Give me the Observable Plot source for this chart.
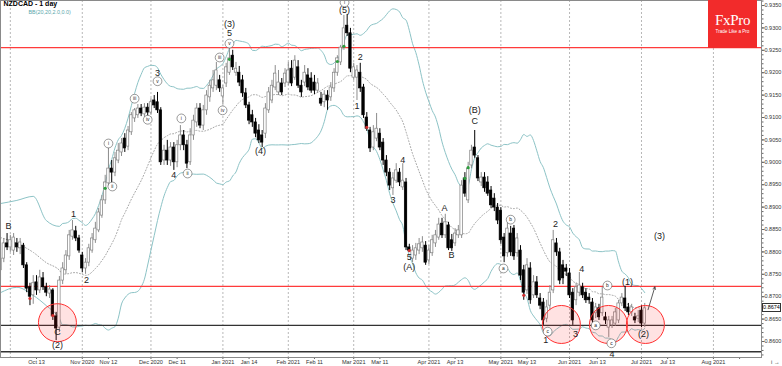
<!DOCTYPE html>
<html><head><meta charset="utf-8">
<script src="https://cdn.jsdelivr.net/npm/d3@7"></script>
<script src="https://cdn.jsdelivr.net/npm/@observablehq/plot@0.6"></script>
<style>
html,body{margin:0;padding:0;background:#fff;}
#wrap{position:relative;width:782px;height:366px;overflow:hidden;font-family:"Liberation Sans",Arial,sans-serif;}
#logo{position:absolute;left:708px;top:0;width:49px;height:48px;background:#f22b2b;color:#fff;text-align:center;}
#logo .b{font-family:"Liberation Serif","DejaVu Serif",serif;font-size:15px;margin-top:13px;line-height:15px;letter-spacing:-0.3px;}
#logo .s{font-size:4.6px;line-height:6px;margin-top:1px;}
#plabel{position:absolute;left:762px;width:19px;height:9px;border:1px solid #333;background:#fff;font-size:5.5px;line-height:7px;text-align:center;box-sizing:border-box;color:#000;}
</style></head><body>
<div id="wrap"></div>
<script>
// ---- data: daily candles NZDCAD, index 0 = 1 Oct 2020 (trading days) ----
const firstIndex = -3;
const open = [.8759,.8785,.8819,.8810,.8803,.8819,.8808,.8814,.8770,.8721,.8703,.8732,.8714,.8741,.8721,.8707,.8714,.8656,.8631,.8736,
.8759,.8790,.8834,.8846,.8830,.8792,.8763,.8776,.8803,.8826,.8848,.8881,.8915,.8953,.8986,.8977,.9004,.9022,.9053,.9035,
.9067,.9098,.9105,.9120,.9107,.9122,.9111,.9138,.9134,.9116,.9004,.9026,.9004,.9033,.9000,.9038,.9060,.9038,.9000,.9060,
.9089,.9120,.9082,.9116,.9145,.9165,.9171,.9183,.9147,.9176,.9200,.9238,.9200,.9200,.9183,.9154,.9127,.9105,.9089,.9071,
.9060,.9064,.9116,.9138,.9167,.9156,.9176,.9176,.9178,.9209,.9189,.9212,.9171,.9178,.9194,.9187,.9178,.9160,.9142,.9134,
.9149,.9145,.9165,.9200,.9223,.9256,.9305,.9288,.9189,.9189,.9200,.9167,.9100,.9071,.9033,.9053,.9064,.9044,.9004,.8977,
.8942,.8959,.8977,.8944,.8955,.8810,.8785,.8792,.8803,.8808,.8814,.8781,.8797,.8819,.8832,.8863,.8837,.8859,.8826,.8819,
.8837,.8837,.8964,.8915,.8993,.9033,.9009,.8955,.8966,.8955,.8937,.8919,.8899,.8892,.8832,.8797,.8841,.8852,.8797,.8803,
.8759,.8714,.8763,.8703,.8732,.8696,.8687,.8651,.8680,.8714,.8819,.8799,.8770,.8763,.8752,.8709,.8692,.8709,.8721,.8709,
.8698,.8687,.8663,.8674,.8663,.8654,.8631,.8636,.8640,.8647,.8685,.8696,.8676,.8665,.8654,.8651,.8669,.8640];
const high = [.8799,.8830,.8841,.8837,.8841,.8830,.8830,.8819,.8776,.8730,.8747,.8747,.8759,.8754,.8730,.8725,.8718,.8665,.8745,.8776,
.8803,.8848,.8870,.8857,.8837,.8799,.8785,.8817,.8841,.8866,.8897,.8926,.8971,.9033,.9004,.9022,.9042,.9053,.9064,.9080,
.9111,.9120,.9129,.9129,.9131,.9131,.9142,.9149,.9156,.9122,.9038,.9049,.9044,.9044,.9049,.9082,.9071,.9049,.9075,.9105,
.9131,.9131,.9127,.9160,.9183,.9205,.9223,.9194,.9171,.9221,.9256,.9250,.9223,.9214,.9194,.9165,.9134,.9116,.9098,.9084,
.9071,.9131,.9167,.9183,.9216,.9205,.9187,.9209,.9223,.9227,.9238,.9227,.9183,.9216,.9209,.9200,.9194,.9187,.9156,.9160,
.9160,.9178,.9209,.9238,.9261,.9328,.9330,.9299,.9221,.9216,.9221,.9174,.9111,.9078,.9082,.9109,.9075,.9053,.9015,.8986,
.8977,.8997,.8986,.8997,.8964,.8817,.8814,.8819,.8830,.8834,.8823,.8814,.8837,.8848,.8875,.8875,.8884,.8866,.8839,.8852,
.8859,.8959,.8977,.9000,.9038,.9071,.9015,.8977,.8977,.8968,.8946,.8930,.8908,.8899,.8841,.8866,.8857,.8859,.8841,.8814,
.8770,.8785,.8776,.8747,.8745,.8707,.8696,.8692,.8725,.8848,.8830,.8808,.8781,.8772,.8763,.8718,.8730,.8754,.8730,.8718,
.8707,.8696,.8685,.8683,.8721,.8665,.8656,.8656,.8674,.8692,.8707,.8723,.8685,.8683,.8663,.8669,.8680,.8685];
const low = [.8736,.8776,.8803,.8799,.8792,.8799,.8794,.8763,.8709,.8680,.8683,.8703,.8707,.8714,.8700,.8696,.8647,.8602,.8620,.8727,
.8750,.8781,.8826,.8823,.8797,.8754,.8750,.8767,.8797,.8819,.8843,.8875,.8906,.8944,.8951,.8968,.8997,.9013,.9022,.9026,
.9060,.9089,.9098,.9102,.9100,.9098,.9105,.9120,.9109,.8993,.8993,.8993,.8991,.8982,.8988,.9026,.9026,.8986,.8993,.9049,
.9078,.9075,.9071,.9105,.9134,.9156,.9160,.9156,.9129,.9167,.9194,.9205,.9192,.9169,.9145,.9120,.9084,.9078,.9055,.9042,
.9033,.9053,.9109,.9131,.9160,.9149,.9149,.9167,.9171,.9169,.9183,.9165,.9145,.9169,.9160,.9154,.9151,.9154,.9125,.9122,
.9116,.9136,.9156,.9192,.9216,.9250,.9281,.9200,.9183,.9138,.9156,.9098,.9069,.9022,.9026,.9046,.9026,.8993,.8968,.8937,
.8926,.8953,.8946,.8937,.8803,.8799,.8776,.8781,.8794,.8799,.8770,.8772,.8790,.8810,.8826,.8830,.8830,.8803,.8801,.8812,
.8830,.8830,.8922,.8908,.8986,.9009,.8957,.8946,.8933,.8924,.8897,.8890,.8861,.8817,.8776,.8788,.8790,.8781,.8788,.8736,
.8692,.8705,.8683,.8696,.8696,.8671,.8636,.8642,.8669,.8707,.8790,.8727,.8727,.8745,.8696,.8636,.8680,.8700,.8696,.8685,
.8683,.8640,.8651,.8647,.8656,.8638,.8609,.8629,.8634,.8640,.8678,.8667,.8658,.8656,.8640,.8642,.8631,.8631];
const close = [.8785,.8819,.8810,.8826,.8832,.8810,.8821,.8770,.8718,.8700,.8730,.8714,.8743,.8721,.8709,.8716,.8656,.8629,.8736,.8763,
.8792,.8837,.8848,.8830,.8803,.8763,.8776,.8808,.8830,.8852,.8888,.8915,.8955,.8986,.8977,.9009,.9026,.9042,.9031,.9071,
.9105,.9116,.9120,.9109,.9122,.9111,.9134,.9127,.9116,.9000,.9026,.9004,.9033,.9000,.9038,.9060,.9038,.8997,.9060,.9093,
.9120,.9082,.9116,.9149,.9171,.9183,.9205,.9165,.9165,.9212,.9232,.9212,.9209,.9178,.9154,.9127,.9093,.9089,.9064,.9049,
.9044,.9120,.9156,.9171,.9198,.9178,.9156,.9198,.9205,.9176,.9227,.9171,.9156,.9200,.9167,.9160,.9160,.9176,.9131,.9151,
.9138,.9167,.9200,.9232,.9256,.9299,.9288,.9209,.9212,.9205,.9165,.9105,.9075,.9031,.9067,.9075,.9033,.9004,.8977,.8948,
.8964,.8982,.8955,.8959,.8810,.8803,.8803,.8808,.8817,.8821,.8776,.8803,.8826,.8837,.8861,.8837,.8866,.8808,.8808,.8841,
.8848,.8948,.8930,.8986,.9026,.9015,.8964,.8966,.8942,.8930,.8904,.8899,.8870,.8826,.8790,.8852,.8799,.8790,.8830,.8747,
.8709,.8770,.8692,.8732,.8703,.8680,.8647,.8676,.8709,.8826,.8799,.8736,.8741,.8756,.8703,.8647,.8721,.8725,.8703,.8692,
.8692,.8647,.8676,.8654,.8698,.8647,.8647,.8647,.8665,.8685,.8698,.8674,.8665,.8676,.8647,.8656,.8640,.8674];

// Bollinger Bands (20, 2): first visible part (window not complete yet)
const bbHeadIndex = [-3, 2, 7, 11, 15];
const bbHeadUpper = [.8908, .8915, .8924, .8870, .8857];
const bbHeadMiddle = [.8832, .8819, .8799, .8776, .8759];
const bbHeadLower = [.8709, .8721, .8703, .8680, .8651];

// horizontal levels
const levelValues = [0.9256, 0.8723, 0.8636, 0.8577];
const levelColors = ["#ff3b3b", "#ff3b3b", "#333", "#333"];

// x axis (trading-day index)
const monthStarts = [0, 22, 43, 65, 85, 105, 128, 150, 171, 193, 215];
const tickIndex = [8, 22, 30, 43, 51, 65, 73, 85, 93, 105, 113, 128, 136, 150, 158, 171, 179.5, 193, 201, 215, 223];
const tickLabels = ["Oct 13","Nov 2020","Nov 12","Dec 2020","Dec 11","Jan 2021","Jan 14","Feb 2021","Feb 11","Mar 2021","Mar 11","Apr 2021","Apr 13","May 2021","May 13","Jun 2021","Jun 13","Jul 2021","Jul 13","Aug 2021",""];
const yTicks = [0.8600,0.8650,0.8700,0.8750,0.8800,0.8850,0.8900,0.8950,0.9000,0.9050,0.9100,0.9150,0.9200,0.9250,0.9300,0.9350];

// wave labels
const waveText = ["B","1","2","C","(2)","3","4","(3)","5","(4)","(5)","2","1","3","4","5","(A)","A","B","(B)","C","2","4","1","3","(1)","(2)","(3)","4"];
const waveIndex = [-0.6,19.3,23.3,14.4,14.4,45,50,67,67,76.5,102.2,107,106,117,120,122,122,132.8,134.9,142,142,166.7,174.7,163.7,172.8,188.7,193.6,198.5,184];
const wavePrice = [.8857,.8884,.8738,.8620,.8591,.9199,.8971,.9308,.9288,.9026,.9339,.9234,.9125,.8915,.9006,.8788,.8767,.8897,.8792,.9116,.9091,.8863,.8761,.8604,.8616,.8732,.8616,.8835,.8572];
const subText = ["i","ii","iii","iv","v","i","ii","iii","iv","v","i","a","b","c","a","b","c"];
const subIndex = [30,31.2,38,42,45,52.3,54.2,64,64.9,67,102.2,150.8,153,164.3,179,182.6,183.8];
const subPrice = [.9042,.8946,.9142,.9095,.9181,.9098,.8975,.9234,.9116,.9265,.9357,.8763,.8872,.8622,.8636,.8725,.8596];

// signal markers
const sigIndex = [29,67,100,102,139,140,6,13,109,122,157];
const sigPrice = [.8942,.9230,.9225,.9259,.8964,.8988,.8696,.8658,.9078,.8803,.8703];
const sigColor = ["#2e9e3e","#2e9e3e","#2e9e3e","#2e9e3e","#2e9e3e","#2e9e3e","#d03030","#d03030","#d03030","#d03030","#d03030"];

// highlight circles and arrow
const ringIndex = [14.4, 168.5, 182.9, 194.2];
const ringPrice = [.8642, .8638, .8638, .8638];
const arrowFrom = [195, .8671];
const arrowTo = [197.1, .8722];

// ---- build ----
const rows = close.map((c, k) => ({i: k + firstIndex, o: open[k], h: high[k], l: low[k], c}));
const bb = bbHeadIndex.map((i, k) => ({i, up: bbHeadUpper[k], mid: bbHeadMiddle[k], lo: bbHeadLower[k]}));
for (let k = 19; k < close.length; k++) {
  const w = close.slice(k - 19, k + 1);
  const m = d3.mean(w);
  const sd = Math.sqrt(d3.mean(w, v => (v - m) ** 2));
  bb.push({i: k + firstIndex, up: m + 2 * sd, mid: m, lo: m - 2 * sd});
}
const waves = waveText.map((t, k) => ({t, i: waveIndex[k], p: wavePrice[k]}));
const subs = subText.map((t, k) => ({t, i: subIndex[k], p: subPrice[k]}));
const sigs = sigIndex.map((i, k) => ({i, p: sigPrice[k], c: sigColor[k]}));
const rings = ringIndex.map((i, k) => ({i, p: ringPrice[k]}));
const labelMap = new Map(tickIndex.map((d, k) => [d, tickLabels[k]]));
const bull = d => d.c >= d.o;
const font = "Liberation Sans, Arial, sans-serif";
const bbColor = "#8cc3c6";

const chart = Plot.plot({
  width: 782, height: 366,
  marginLeft: 0, marginRight: 21, marginTop: 0, marginBottom: 9,
  style: {fontFamily: font, background: "#fff"},
  x: {domain: [-3.01, 229.7], axis: null},
  y: {domain: [0.85643, 0.93612], axis: null},
  marks: [
    Plot.ruleX(monthStarts, {stroke: "#b8b8b8", strokeDasharray: "2,2", strokeWidth: 1}),
    Plot.lineY(bb, {x: "i", y: "up", stroke: bbColor, strokeWidth: 1, curve: "monotone-x"}),
    Plot.lineY(bb, {x: "i", y: "lo", stroke: bbColor, strokeWidth: 1, curve: "monotone-x"}),
    Plot.lineY(bb, {x: "i", y: "mid", stroke: "#9a9a9a", strokeWidth: 0.9, strokeDasharray: "1,2", curve: "monotone-x"}),
    Plot.ruleY(levelValues, {stroke: (d, k) => levelColors[k], strokeWidth: 1.4}),
    Plot.ruleX(rows, {x: "i", y1: "l", y2: "h", stroke: d => bull(d) ? "#8c8c8c" : "#000", strokeWidth: 1}),
    Plot.rect(rows, {x1: d => d.i - 0.37, x2: d => d.i + 0.37, y1: "o", y2: "c",
      fill: d => bull(d) ? "#fff" : "#000", stroke: d => bull(d) ? "#808080" : "#000", strokeWidth: 0.7}),
    Plot.dot(sigs, {x: "i", y: "p", r: 1.6, fill: "c", stroke: "none"}),
    Plot.dot(rings, {x: "i", y: "p", r: 19, stroke: "#ff3030", strokeWidth: 1, fill: "#ff2020", fillOpacity: 0.13}),
    Plot.arrow([{}], {x1: arrowFrom[0], y1: arrowFrom[1], x2: arrowTo[0], y2: arrowTo[1], stroke: "#333", strokeWidth: 0.8, headLength: 5}),
    Plot.text(waves, {x: "i", y: "p", text: "t", fontSize: 9, fill: "#222"}),
    Plot.dot(subs, {x: "i", y: "p", r: 4.4, stroke: "#555", strokeWidth: 0.6, fill: "#fff"}),
    Plot.text(subs, {x: "i", y: "p", text: "t", fontSize: 4.9, fill: "#222"}),
    Plot.axisX(tickIndex, {tickFormat: d => labelMap.get(d), tickSize: 2, tickPadding: 0.5, fontSize: 5.6, fill: "#333", stroke: "#666"}),
    Plot.axisY(yTicks, {anchor: "right", tickFormat: d3.format(".4f"), tickSize: 2.5, tickPadding: 0.5, fontSize: 5.5, fill: "#333", stroke: "#666"}),
    Plot.axisY(d3.range(0.857, 0.936, 0.001), {anchor: "right", tickFormat: () => "", tickSize: 1.5, stroke: "#666"}),
    Plot.frame({stroke: "#8a8a8a", strokeWidth: 1}),
    Plot.text(["NZDCAD - 1 day"], {frameAnchor: "top-left", dx: 3, dy: 1, textAnchor: "start", lineAnchor: "top", fontSize: 7, fontWeight: "bold", fill: "#000"}),
    Plot.text(["BB(20,20,2.0,0.0)"], {frameAnchor: "top-left", dx: 28, dy: 9.5, textAnchor: "start", lineAnchor: "top", fontSize: 5.4, fill: "#5aa7ab"})
  ]
});
const wrap = document.getElementById("wrap");
wrap.appendChild(chart);
const logo = document.createElement("div");
logo.id = "logo";
logo.innerHTML = '<div class="b">FxPro</div><div class="s">Trade Like a Pro</div>';
wrap.appendChild(logo);
const lastClose = close[close.length - 1];
const ly = chart.scale("y").apply(lastClose);
const pl = document.createElement("div");
pl.id = "plabel";
pl.style.top = (ly - 4.5) + "px";
pl.textContent = d3.format(".4f")(lastClose);
wrap.appendChild(pl);
</script>
</body></html>
